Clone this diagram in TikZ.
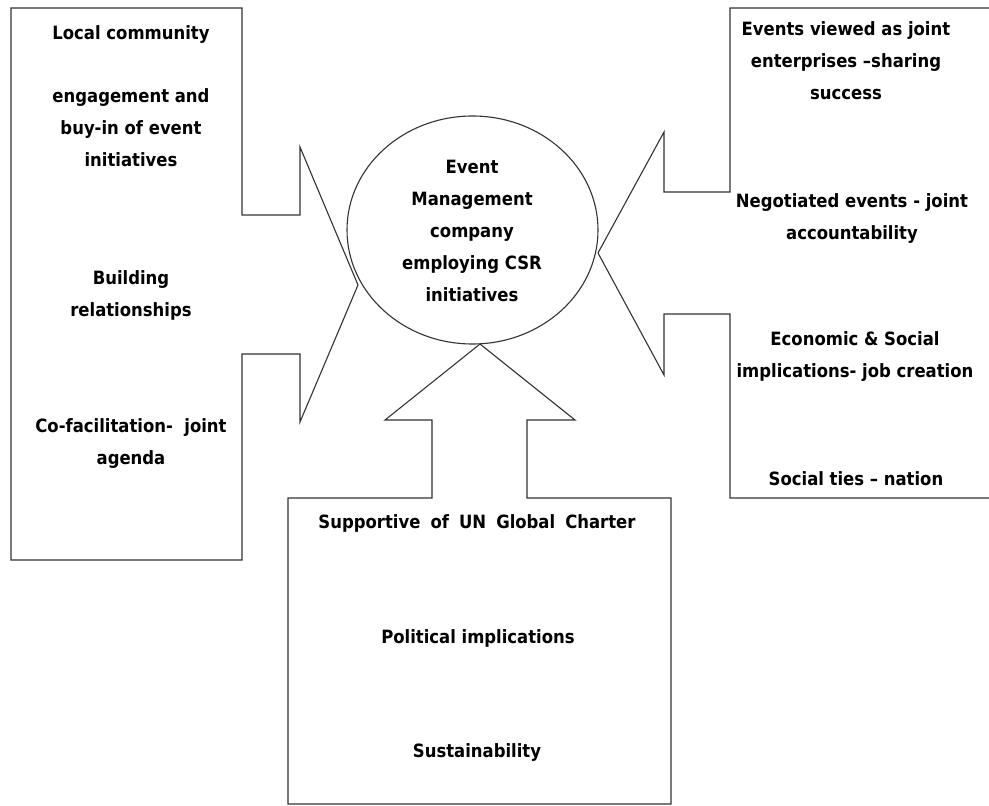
\documentclass[tikz,border=0pt]{standalone}
\usepackage{fontspec}
\setmainfont{DejaVu Sans Condensed}
\usetikzlibrary{shapes.geometric}
\begin{document}
\begin{tikzpicture}[x=1pt,y=-1pt,
  outline/.style={draw=black!80,line width=1.1pt,line join=miter},
  lbl/.style={font=\fontsize{18.3}{32}\selectfont\bfseries,align=center,inner sep=0pt,text=black}]
\fill[white] (0,0) rectangle (989,806);
\useasboundingbox (0,0) rectangle (989,806);
% left shape
\draw[outline] (11,8) -- (242,8) -- (242,215) -- (300,215) -- (300,147) -- (358,285) -- (300,422) -- (300,354) -- (242,354) -- (242,560) -- (11,560) -- cycle;
% right shape
\draw[outline] (989,8) -- (730,8) -- (730,192) -- (664,192) -- (664,132) -- (598,253) -- (664,375) -- (664,314) -- (730,314) -- (730,498) -- (989,498);
% bottom shape
\draw[outline] (288,498) -- (432,498) -- (432,420) -- (385,420) -- (480,344) -- (575,420) -- (527,420) -- (527,498) -- (671,498) -- (671,804) -- (288,804) -- cycle;
% hub ellipse
\node[ellipse, draw=black!80, line width=1.1pt, minimum width=251pt, minimum height=228pt, inner sep=0pt] (hub) at (472.5,230) {};
\node[lbl] (hubtext) at (472,231) {Event\\Management\\company\\employing CSR\\initiatives};
% left texts
\node[lbl] (l1) at (131,35) {Local community};
\node[lbl] (l2) at (131,128) {engagement and\\buy-in of event\\initiatives};
\node[lbl] (l3) at (131,295) {Building\\relationships};
\node[lbl] (l4) at (131,444) {Co-facilitation-\ \ joint\\agenda};
% right texts
\node[lbl] (r1) at (846,61) {Events viewed as joint\\enterprises –sharing\\success};
\node[lbl] (r2) at (852,219) {Negotiated events - joint\\accountability};
\node[lbl] (r3) at (855,357) {Economic \& Social\\implications- job creation};
\node[lbl] (r4) at (856,479) {Social ties – nation};
% bottom texts
\node[lbl] (b1) at (477,523) {\spaceskip=0.55em\relax Supportive of UN Global Charter};
\node[lbl] (b2) at (478,638) {Political implications};
\node[lbl] (b3) at (477,753) {Sustainability};
\end{tikzpicture}
\end{document}
